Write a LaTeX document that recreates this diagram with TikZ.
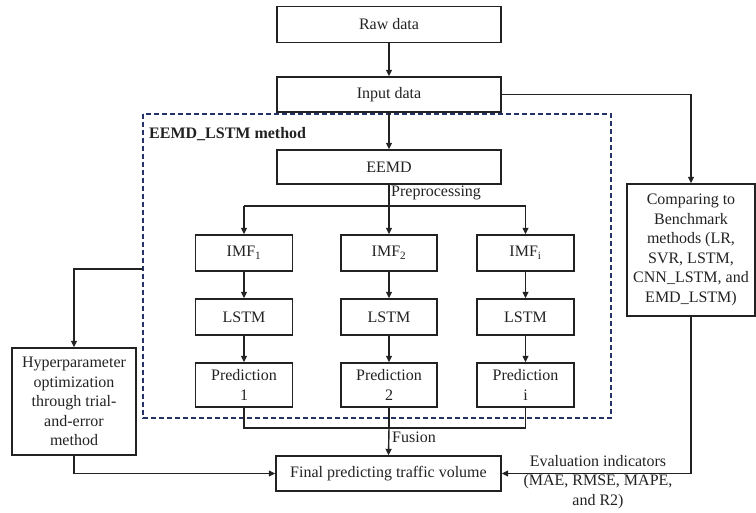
\documentclass[tikz,border=0pt]{standalone}
\usepackage{fontspec}
\setmainfont{Liberation Serif}
\usetikzlibrary{arrows.meta,positioning}
\definecolor{ink}{HTML}{222222}
\definecolor{navy}{HTML}{26336A}
\begin{document}
\begin{tikzpicture}[x=1pt,y=-1pt,
  box/.style={draw=ink,line width=1.4pt,text=ink,inner sep=2pt,align=center,font=\fontsize{16}{19.5}\selectfont},
  conn/.style={draw=ink,line width=1.4pt},
  arr/.style={conn,-{Triangle[width=6pt,length=6.5pt]}},
  lbl/.style={text=ink,font=\fontsize{16}{19.5}\selectfont,inner sep=1pt}
]
\useasboundingbox (0,0) rectangle (756,513);
% dashed frame
\draw[navy,line width=1.8pt,dash pattern=on 5pt off 3pt] (143,114) rectangle (611,418);
\node[lbl,anchor=west,font=\fontsize{16}{19.5}\selectfont\bfseries] (title) at (148,134) {EEMD\_LSTM method};
\coordinate (frameL) at (143,269);

\node[box,minimum width=224pt,minimum height=36pt] (raw) at (389,24.5) {Raw data};
\node[box,minimum width=224pt,minimum height=35pt] (input) at (389,94.5) {Input data};
\node[box,minimum width=224pt,minimum height=34pt] (eemd) at (389,167) {EEMD};

\node[box,minimum width=97pt,minimum height=36pt] (imf1) at (244,253) {IMF\textsubscript{1}};
\node[box,minimum width=96pt,minimum height=36pt] (imf2) at (389,253) {IMF\textsubscript{2}};
\node[box,minimum width=97pt,minimum height=36pt] (imfi) at (525.5,253) {IMF\textsubscript{i}};

\node[box,minimum width=97pt,minimum height=36pt] (l1) at (244,317) {LSTM};
\node[box,minimum width=96pt,minimum height=36pt] (l2) at (389,317) {LSTM};
\node[box,minimum width=97pt,minimum height=36pt] (li) at (525.5,317) {LSTM};

\node[box,minimum width=97pt,minimum height=44pt] (p1) at (244,385) {Prediction\\1};
\node[box,minimum width=96pt,minimum height=44pt] (p2) at (389,385) {Prediction\\2};
\node[box,minimum width=97pt,minimum height=44pt] (pi) at (525.5,385) {Prediction\\i};

\node[box,minimum width=225pt,minimum height=35pt] (final) at (388.5,473.5) {Final predicting traffic volume};

\node[box,minimum width=124pt,minimum height=107pt] (hyper) at (74,401.5) {Hyperparameter\\optimization\\through trial-\\and-error\\method};
\node[box,minimum width=128pt,minimum height=132pt] (comp) at (691,250) {Comparing to\\Benchmark\\methods (LR,\\SVR, LSTM,\\CNN\_LSTM, and\\EMD\_LSTM)};

% main chain
\draw[arr] (raw) -- (input);
\draw[arr] (input) -- (eemd);
\coordinate (split) at (389,206);
\draw[conn] (eemd.south) -- (split);
\node[lbl,anchor=west] (prep) at (390,193) {Preprocessing};
\draw[conn] (imf1.north |- split) -- (imfi.north |- split);
\draw[arr] (imf1.north |- split) -- (imf1.north);
\draw[arr] (split) -- (imf2.north);
\draw[arr] (imfi.north |- split) -- (imfi.north);
\draw[arr] (imf1) -- (l1);
\draw[arr] (imf2) -- (l2);
\draw[arr] (imfi) -- (li);
\draw[arr] (l1) -- (p1);
\draw[arr] (l2) -- (p2);
\draw[arr] (li) -- (pi);
\coordinate (merge) at (389,428);
\draw[conn] (p1.south) -- (p1.south |- merge) -- (pi.south |- merge) -- (pi.south);
\draw[conn] (p2.south) -- (merge);
\draw[arr] (merge) -- (final.north);
\node[lbl,anchor=west] (fus) at (391,437) {Fusion};

% side branches
\draw[arr] (input.east) -- (comp.north |- input.east) -- (comp.north);
\draw[arr] (comp.south) -- (comp.south |- final.east) -- (final.east);
\node[lbl,align=center] (eval) at (598,482) {Evaluation indicators\\(MAE, RMSE, MAPE,\\and R2)};
\draw[arr] (frameL) -- (hyper.north |- frameL) -- (hyper.north);
\draw[arr] (hyper.south) -- (hyper.south |- final.west) -- (final.west);
\end{tikzpicture}
\end{document}
